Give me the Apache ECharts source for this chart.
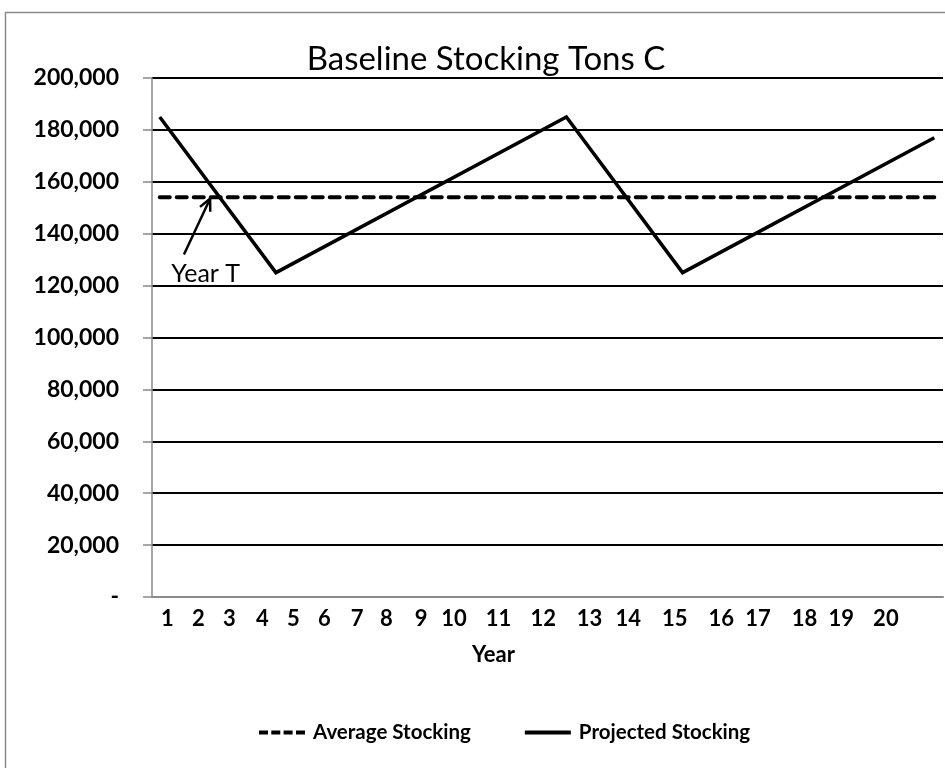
<!DOCTYPE html>
<html>
<head>
<meta charset="utf-8">
<script src="https://cdn.jsdelivr.net/npm/echarts@6/dist/echarts.min.js"></script>
<style>
html,body{margin:0;padding:0;background:#fff;}
#chart{width:945px;height:768px;}
</style>
</head>
<body>
<div id="chart"></div>
<script>
// Data (x = period index along the projection, 41 evenly spaced periods: 0..40)
const projPeriods = [0, 6, 21, 27, 40];
const projValues = [185000, 125000, 185000, 125000, 177000];
const avgPeriods = [0, 40];
const avgValues = [154000, 154000];
const yearLabels = ['1','2','3','4','5','6','7','8','9','10','11','12','13','14','15','16','17','18','19','20'];
const yearLabelAt = [0.4, 2.0, 3.6, 5.3, 6.9, 8.5, 10.2, 11.7, 13.5, 15.2, 17.5, 19.8, 22.2, 24.2, 26.6, 29.0, 30.9, 33.3, 35.2, 37.5];
const annotationText = 'Year T';
const arrowFrom = [1.25, 132000];
const arrowTo = [2.6, 153500];

const FONT = 'Lato';
const chart = echarts.init(document.getElementById('chart'));

const projData = projPeriods.map((p, i) => [p, projValues[i]]);
const avgData = avgPeriods.map((p, i) => [p, avgValues[i]]);

const dashIcon = 'path://M0,0h9v4h-9z M12.3,0h9v4h-9z M24.6,0h9v4h-9z M37,0h9v4h-9z';
const solidIcon = 'path://M0,0h46v4h-46z';

chart.setOption({
  animation: false,
  backgroundColor: '#fff',
  title: {
    text: 'Baseline Stocking Tons C',
    left: 481, top: 38, textAlign: 'center',
    textStyle: { fontFamily: FONT, fontSize: 33, fontWeight: 'normal', color: '#000' }
  },
  grid: { left: 152, right: 2, top: 78, bottom: 171, containLabel: false },
  legend: {
    bottom: 20, left: 254,
    itemWidth: 46, itemHeight: 4, itemGap: 54, symbolKeepAspect: false,
    textStyle: { fontFamily: FONT, fontSize: 20.5, fontWeight: 'bold', color: '#000', padding: [0,0,0,3] },
    data: [
      { name: 'Average Stocking', icon: dashIcon, itemStyle: { color: '#000' } },
      { name: 'Projected Stocking', icon: solidIcon, itemStyle: { color: '#000' } }
    ]
  },
  xAxis: {
    type: 'value', min: -0.4, max: 40.45,
    name: 'Year', nameLocation: 'middle', nameGap: 47,
    nameTextStyle: { fontFamily: FONT, fontSize: 22, fontWeight: 'bold', color: '#000', padding: [0, 108, 0, 0] },
    axisLine: { show: true, onZero: false, lineStyle: { color: '#8a8a8a', width: 2 } },
    axisTick: { show: false },
    splitLine: { show: false },
    axisLabel: {
      customValues: yearLabelAt,
      formatter: v => { const i = yearLabelAt.indexOf(v); return i >= 0 ? yearLabels[i] : ''; },
      margin: 11, fontFamily: FONT, fontSize: 22, fontWeight: 'bold', color: '#000'
    }
  },
  yAxis: {
    type: 'value', min: 0, max: 200000, interval: 20000,
    axisLine: { show: true, onZero: false, lineStyle: { color: '#8a8a8a', width: 1.5 } },
    axisTick: { show: true, length: 9, lineStyle: { color: '#8a8a8a', width: 1.5 } },
    splitLine: { show: true, lineStyle: { color: '#000', width: 2 } },
    axisLabel: {
      margin: 33, fontFamily: FONT, fontSize: 23, fontWeight: 'bold', color: '#000',
      formatter: v => v === 0 ? '-' : v.toLocaleString('en-US')
    }
  },
  series: [
    {
      name: 'Average Stocking', type: 'line', data: avgData, symbol: 'none', z: 3,
      lineStyle: { color: '#000', width: 4, type: [10, 7], cap: 'round' },
      itemStyle: { color: '#000' }
    },
    {
      name: 'Projected Stocking', type: 'line', data: projData, symbol: 'none', z: 4,
      lineStyle: { color: '#000', width: 3.5, join: 'miter' },
      itemStyle: { color: '#000' }
    }
  ]
});

function drawAnnotation() {
  const a = chart.convertToPixel({ gridIndex: 0 }, arrowFrom);
  const b = chart.convertToPixel({ gridIndex: 0 }, arrowTo);
  const ang = Math.atan2(b[1] - a[1], b[0] - a[0]);
  const hl = 13, spread = 0.45;
  const h1 = [b[0] - hl * Math.cos(ang - spread), b[1] - hl * Math.sin(ang - spread)];
  const h2 = [b[0] - hl * Math.cos(ang + spread), b[1] - hl * Math.sin(ang + spread)];
  const textPos = chart.convertToPixel({ gridIndex: 0 }, [0.6, 124500]);
  chart.setOption({
    graphic: [
      { type: 'rect', shape: { x: 5.5, y: 12.5, width: 960, height: 780 }, style: { fill: 'none', stroke: '#8a8a8a', lineWidth: 1.5 }, silent: true, z: 0 },
      { type: 'line', shape: { x1: a[0], y1: a[1], x2: b[0], y2: b[1] }, style: { stroke: '#000', lineWidth: 2.5 }, z: 10 },
      { type: 'polyline', shape: { points: [h1, b, h2] }, style: { stroke: '#000', lineWidth: 2.5, fill: 'none' }, z: 10 },
      { type: 'text', x: textPos[0], y: textPos[1], style: { text: annotationText, font: 'normal 25px ' + FONT, fill: '#000', textAlign: 'left', textVerticalAlign: 'middle' }, z: 10 }
    ]
  });
}
drawAnnotation();
</script>
</body>
</html>
